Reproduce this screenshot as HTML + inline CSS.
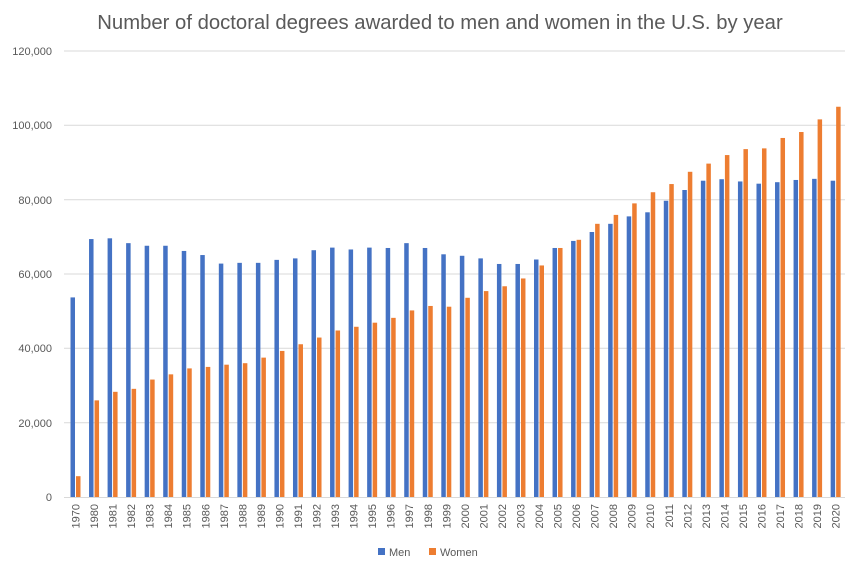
<!DOCTYPE html>
<html><head><meta charset="utf-8"><style>body{margin:0;background:#fff}svg{display:block;font-family:"Liberation Sans",sans-serif}</style></head><body>
<svg width="853" height="574" viewBox="0 0 853 574">
<rect width="853" height="574" fill="#fff"/>
<text x="440" y="29" font-size="20.3" fill="#595959" text-anchor="middle">Number of doctoral degrees awarded to men and women in the U.S. by year</text>
<g stroke="#d9d9d9" stroke-width="1">
<line x1="64" x2="845" y1="51" y2="51"/><line x1="64" x2="845" y1="125.3" y2="125.3"/><line x1="64" x2="845" y1="199.7" y2="199.7"/><line x1="64" x2="845" y1="274" y2="274"/><line x1="64" x2="845" y1="348.3" y2="348.3"/><line x1="64" x2="845" y1="422.7" y2="422.7"/><line x1="64" x2="845" y1="497.5" y2="497.5"/>
</g>
<g font-size="11" fill="#595959" text-anchor="end">
<text x="52" y="55">120,000</text><text x="52" y="129">100,000</text><text x="52" y="204">80,000</text><text x="52" y="278">60,000</text><text x="52" y="352">40,000</text><text x="52" y="427">20,000</text><text x="52" y="501">0</text>
</g>
<g id="bars">
<g transform="translate(75.5,497) scale(1,-3.7167)"><rect x="-5" width="4.5" height="53.7" fill="#4472c4"/><rect x="0.5" width="4.5" height="5.6" fill="#ed7d31"/></g>
<g transform="translate(94.04,497) scale(1,-3.7167)"><rect x="-5" width="4.5" height="69.4" fill="#4472c4"/><rect x="0.5" width="4.5" height="26" fill="#ed7d31"/></g>
<g transform="translate(112.58,497) scale(1,-3.7167)"><rect x="-5" width="4.5" height="69.6" fill="#4472c4"/><rect x="0.5" width="4.5" height="28.3" fill="#ed7d31"/></g>
<g transform="translate(131.12,497) scale(1,-3.7167)"><rect x="-5" width="4.5" height="68.3" fill="#4472c4"/><rect x="0.5" width="4.5" height="29.1" fill="#ed7d31"/></g>
<g transform="translate(149.66,497) scale(1,-3.7167)"><rect x="-5" width="4.5" height="67.6" fill="#4472c4"/><rect x="0.5" width="4.5" height="31.6" fill="#ed7d31"/></g>
<g transform="translate(168.2,497) scale(1,-3.7167)"><rect x="-5" width="4.5" height="67.6" fill="#4472c4"/><rect x="0.5" width="4.5" height="33" fill="#ed7d31"/></g>
<g transform="translate(186.74,497) scale(1,-3.7167)"><rect x="-5" width="4.5" height="66.2" fill="#4472c4"/><rect x="0.5" width="4.5" height="34.6" fill="#ed7d31"/></g>
<g transform="translate(205.28,497) scale(1,-3.7167)"><rect x="-5" width="4.5" height="65.1" fill="#4472c4"/><rect x="0.5" width="4.5" height="35" fill="#ed7d31"/></g>
<g transform="translate(223.82,497) scale(1,-3.7167)"><rect x="-5" width="4.5" height="62.8" fill="#4472c4"/><rect x="0.5" width="4.5" height="35.6" fill="#ed7d31"/></g>
<g transform="translate(242.36,497) scale(1,-3.7167)"><rect x="-5" width="4.5" height="63" fill="#4472c4"/><rect x="0.5" width="4.5" height="36" fill="#ed7d31"/></g>
<g transform="translate(260.9,497) scale(1,-3.7167)"><rect x="-5" width="4.5" height="63" fill="#4472c4"/><rect x="0.5" width="4.5" height="37.5" fill="#ed7d31"/></g>
<g transform="translate(279.44,497) scale(1,-3.7167)"><rect x="-5" width="4.5" height="63.8" fill="#4472c4"/><rect x="0.5" width="4.5" height="39.3" fill="#ed7d31"/></g>
<g transform="translate(297.98,497) scale(1,-3.7167)"><rect x="-5" width="4.5" height="64.2" fill="#4472c4"/><rect x="0.5" width="4.5" height="41.1" fill="#ed7d31"/></g>
<g transform="translate(316.52,497) scale(1,-3.7167)"><rect x="-5" width="4.5" height="66.4" fill="#4472c4"/><rect x="0.5" width="4.5" height="42.9" fill="#ed7d31"/></g>
<g transform="translate(335.06,497) scale(1,-3.7167)"><rect x="-5" width="4.5" height="67.1" fill="#4472c4"/><rect x="0.5" width="4.5" height="44.8" fill="#ed7d31"/></g>
<g transform="translate(353.6,497) scale(1,-3.7167)"><rect x="-5" width="4.5" height="66.6" fill="#4472c4"/><rect x="0.5" width="4.5" height="45.8" fill="#ed7d31"/></g>
<g transform="translate(372.14,497) scale(1,-3.7167)"><rect x="-5" width="4.5" height="67.1" fill="#4472c4"/><rect x="0.5" width="4.5" height="46.9" fill="#ed7d31"/></g>
<g transform="translate(390.68,497) scale(1,-3.7167)"><rect x="-5" width="4.5" height="67" fill="#4472c4"/><rect x="0.5" width="4.5" height="48.2" fill="#ed7d31"/></g>
<g transform="translate(409.22,497) scale(1,-3.7167)"><rect x="-5" width="4.5" height="68.3" fill="#4472c4"/><rect x="0.5" width="4.5" height="50.2" fill="#ed7d31"/></g>
<g transform="translate(427.76,497) scale(1,-3.7167)"><rect x="-5" width="4.5" height="67" fill="#4472c4"/><rect x="0.5" width="4.5" height="51.4" fill="#ed7d31"/></g>
<g transform="translate(446.3,497) scale(1,-3.7167)"><rect x="-5" width="4.5" height="65.3" fill="#4472c4"/><rect x="0.5" width="4.5" height="51.2" fill="#ed7d31"/></g>
<g transform="translate(464.84,497) scale(1,-3.7167)"><rect x="-5" width="4.5" height="64.9" fill="#4472c4"/><rect x="0.5" width="4.5" height="53.6" fill="#ed7d31"/></g>
<g transform="translate(483.38,497) scale(1,-3.7167)"><rect x="-5" width="4.5" height="64.2" fill="#4472c4"/><rect x="0.5" width="4.5" height="55.4" fill="#ed7d31"/></g>
<g transform="translate(501.92,497) scale(1,-3.7167)"><rect x="-5" width="4.5" height="62.7" fill="#4472c4"/><rect x="0.5" width="4.5" height="56.7" fill="#ed7d31"/></g>
<g transform="translate(520.46,497) scale(1,-3.7167)"><rect x="-5" width="4.5" height="62.7" fill="#4472c4"/><rect x="0.5" width="4.5" height="58.8" fill="#ed7d31"/></g>
<g transform="translate(539,497) scale(1,-3.7167)"><rect x="-5" width="4.5" height="63.9" fill="#4472c4"/><rect x="0.5" width="4.5" height="62.3" fill="#ed7d31"/></g>
<g transform="translate(557.54,497) scale(1,-3.7167)"><rect x="-5" width="4.5" height="67" fill="#4472c4"/><rect x="0.5" width="4.5" height="67" fill="#ed7d31"/></g>
<g transform="translate(576.08,497) scale(1,-3.7167)"><rect x="-5" width="4.5" height="68.9" fill="#4472c4"/><rect x="0.5" width="4.5" height="69.2" fill="#ed7d31"/></g>
<g transform="translate(594.62,497) scale(1,-3.7167)"><rect x="-5" width="4.5" height="71.3" fill="#4472c4"/><rect x="0.5" width="4.5" height="73.5" fill="#ed7d31"/></g>
<g transform="translate(613.16,497) scale(1,-3.7167)"><rect x="-5" width="4.5" height="73.5" fill="#4472c4"/><rect x="0.5" width="4.5" height="75.9" fill="#ed7d31"/></g>
<g transform="translate(631.7,497) scale(1,-3.7167)"><rect x="-5" width="4.5" height="75.5" fill="#4472c4"/><rect x="0.5" width="4.5" height="79" fill="#ed7d31"/></g>
<g transform="translate(650.24,497) scale(1,-3.7167)"><rect x="-5" width="4.5" height="76.6" fill="#4472c4"/><rect x="0.5" width="4.5" height="82" fill="#ed7d31"/></g>
<g transform="translate(668.78,497) scale(1,-3.7167)"><rect x="-5" width="4.5" height="79.7" fill="#4472c4"/><rect x="0.5" width="4.5" height="84.2" fill="#ed7d31"/></g>
<g transform="translate(687.32,497) scale(1,-3.7167)"><rect x="-5" width="4.5" height="82.6" fill="#4472c4"/><rect x="0.5" width="4.5" height="87.5" fill="#ed7d31"/></g>
<g transform="translate(705.86,497) scale(1,-3.7167)"><rect x="-5" width="4.5" height="85.1" fill="#4472c4"/><rect x="0.5" width="4.5" height="89.7" fill="#ed7d31"/></g>
<g transform="translate(724.4,497) scale(1,-3.7167)"><rect x="-5" width="4.5" height="85.5" fill="#4472c4"/><rect x="0.5" width="4.5" height="92" fill="#ed7d31"/></g>
<g transform="translate(742.94,497) scale(1,-3.7167)"><rect x="-5" width="4.5" height="84.9" fill="#4472c4"/><rect x="0.5" width="4.5" height="93.6" fill="#ed7d31"/></g>
<g transform="translate(761.48,497) scale(1,-3.7167)"><rect x="-5" width="4.5" height="84.3" fill="#4472c4"/><rect x="0.5" width="4.5" height="93.8" fill="#ed7d31"/></g>
<g transform="translate(780.02,497) scale(1,-3.7167)"><rect x="-5" width="4.5" height="84.7" fill="#4472c4"/><rect x="0.5" width="4.5" height="96.6" fill="#ed7d31"/></g>
<g transform="translate(798.56,497) scale(1,-3.7167)"><rect x="-5" width="4.5" height="85.3" fill="#4472c4"/><rect x="0.5" width="4.5" height="98.2" fill="#ed7d31"/></g>
<g transform="translate(817.1,497) scale(1,-3.7167)"><rect x="-5" width="4.5" height="85.6" fill="#4472c4"/><rect x="0.5" width="4.5" height="101.6" fill="#ed7d31"/></g>
<g transform="translate(835.64,497) scale(1,-3.7167)"><rect x="-5" width="4.5" height="85.1" fill="#4472c4"/><rect x="0.5" width="4.5" height="105" fill="#ed7d31"/></g>
</g>
<g font-size="11" fill="#595959" text-anchor="end">
<text transform="translate(79.5,504) rotate(-90)">1970</text>
<text transform="translate(98,504) rotate(-90)">1980</text>
<text transform="translate(116.6,504) rotate(-90)">1981</text>
<text transform="translate(135.1,504) rotate(-90)">1982</text>
<text transform="translate(153.7,504) rotate(-90)">1983</text>
<text transform="translate(172.2,504) rotate(-90)">1984</text>
<text transform="translate(190.7,504) rotate(-90)">1985</text>
<text transform="translate(209.3,504) rotate(-90)">1986</text>
<text transform="translate(227.8,504) rotate(-90)">1987</text>
<text transform="translate(246.4,504) rotate(-90)">1988</text>
<text transform="translate(264.9,504) rotate(-90)">1989</text>
<text transform="translate(283.4,504) rotate(-90)">1990</text>
<text transform="translate(302,504) rotate(-90)">1991</text>
<text transform="translate(320.5,504) rotate(-90)">1992</text>
<text transform="translate(339.1,504) rotate(-90)">1993</text>
<text transform="translate(357.6,504) rotate(-90)">1994</text>
<text transform="translate(376.1,504) rotate(-90)">1995</text>
<text transform="translate(394.7,504) rotate(-90)">1996</text>
<text transform="translate(413.2,504) rotate(-90)">1997</text>
<text transform="translate(431.8,504) rotate(-90)">1998</text>
<text transform="translate(450.3,504) rotate(-90)">1999</text>
<text transform="translate(468.8,504) rotate(-90)">2000</text>
<text transform="translate(487.4,504) rotate(-90)">2001</text>
<text transform="translate(505.9,504) rotate(-90)">2002</text>
<text transform="translate(524.5,504) rotate(-90)">2003</text>
<text transform="translate(543,504) rotate(-90)">2004</text>
<text transform="translate(561.5,504) rotate(-90)">2005</text>
<text transform="translate(580.1,504) rotate(-90)">2006</text>
<text transform="translate(598.6,504) rotate(-90)">2007</text>
<text transform="translate(617.2,504) rotate(-90)">2008</text>
<text transform="translate(635.7,504) rotate(-90)">2009</text>
<text transform="translate(654.2,504) rotate(-90)">2010</text>
<text transform="translate(672.8,504) rotate(-90)">2011</text>
<text transform="translate(691.3,504) rotate(-90)">2012</text>
<text transform="translate(709.9,504) rotate(-90)">2013</text>
<text transform="translate(728.4,504) rotate(-90)">2014</text>
<text transform="translate(746.9,504) rotate(-90)">2015</text>
<text transform="translate(765.5,504) rotate(-90)">2016</text>
<text transform="translate(784,504) rotate(-90)">2017</text>
<text transform="translate(802.6,504) rotate(-90)">2018</text>
<text transform="translate(821.1,504) rotate(-90)">2019</text>
<text transform="translate(839.6,504) rotate(-90)">2020</text>
</g>
<rect x="378" y="548" width="7" height="7" fill="#4472c4"/>
<text x="389" y="556" font-size="11" fill="#595959">Men</text>
<rect x="429" y="548" width="7" height="7" fill="#ed7d31"/>
<text x="440" y="556" font-size="11" fill="#595959">Women</text>
</svg>
</body></html>
